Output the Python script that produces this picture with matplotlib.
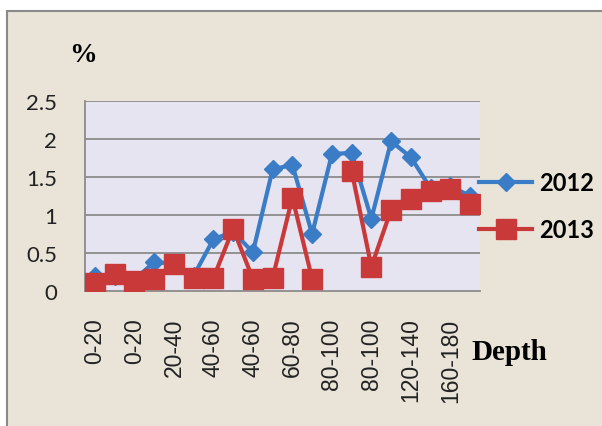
import numpy as np
import matplotlib
matplotlib.use('Agg')
import matplotlib.pyplot as plt
from matplotlib.patches import Rectangle

# depth classes (only every second one is labelled on the axis)
shown_labels = ['0-20', '0-20', '20-40', '40-60', '40-60',
                '60-80', '80-100', '80-100', '120-140', '160-180']

val_2012 = [0.20, 0.20, 0.15, 0.38, 0.36, 0.20, 0.68, 0.78, 0.51, 1.60,
            1.66, 0.75, 1.80, 1.82, 0.95, 1.97, 1.76, 1.35, 1.38, 1.25]
val_2013 = [0.10, 0.22, 0.13, 0.16, 0.36, 0.17, 0.17, 0.82, 0.16, 0.17,
            1.23, 0.16, np.nan, 1.58, 0.32, 1.07, 1.21, 1.32, 1.34, 1.15]

bg = '#e9e3d8'
blue = '#3b7cc6'
red = '#c9393a'

fig = plt.figure(figsize=(6.02, 4.27), dpi=100)
fig.patch.set_facecolor('white')
fig.patches.append(Rectangle((7 / 602, -0.1), 1.2, 1 - 12 / 427 + 0.1,
                             transform=fig.transFigure, facecolor=bg,
                             edgecolor='#8a8a8a', linewidth=1.5, zorder=-10))

ax = fig.add_axes([85 / 602, 1 - 292 / 427, 395 / 602, 190 / 427])
ax.set_facecolor('#e7e4f1')

x = np.arange(len(val_2012))
ax.plot(x, val_2012, color=blue, lw=3, marker='D', ms=9.5, label='2012', zorder=3)
ax.plot(x, val_2013, color=red, lw=3, marker='s', ms=14, label='2013', zorder=4)

ax.set_xlim(-0.5, len(x) - 0.5)
ax.set_ylim(0, 2.5)
ax.set_yticks([0, 0.5, 1, 1.5, 2, 2.5])
ax.set_yticklabels(['0', '0.5', '1', '1.5', '2', '2.5'])
ax.set_xticks(x[::2])
ax.set_xticklabels(shown_labels, rotation=90)

for y in [0.5, 1, 1.5, 2, 2.5]:
    ax.axhline(y, color='#8c8c8c', lw=1.3, zorder=1)
for s in ['top', 'right']:
    ax.spines[s].set_visible(False)
ax.spines['left'].set_color('#8c8c8c')
ax.spines['bottom'].set_color('#8c8c8c')
ax.spines['left'].set_linewidth(1.3)
ax.spines['bottom'].set_linewidth(1.3)

ax.tick_params(axis='y', length=0, pad=20, labelsize=16, labelcolor='#222222')
ax.tick_params(axis='x', length=0, pad=19, labelsize=16.5, labelcolor='#222222')
for t in ax.get_yticklabels():
    t.set_fontfamily('Lato')
for t in ax.get_xticklabels():
    t.set_fontfamily('Liberation Sans')

fig.text(69 / 602, 1 - 56 / 427, '%', fontsize=20, fontweight='bold',
         family='Liberation Serif', va='center', ha='left')
fig.text(471 / 602, 1 - 353 / 427, 'Depth', fontsize=21, fontweight='bold',
         family='Liberation Serif', va='center', ha='left')

leg = ax.legend(loc='center left', bbox_to_anchor=(479 / 602, 1 - 207 / 427),
                bbox_transform=fig.transFigure, frameon=False,
                borderpad=0, borderaxespad=0,
                handlelength=2.25, handletextpad=0.3, labelspacing=1.0,
                prop={'family': 'Lato', 'weight': 'bold', 'size': 17})

fig.savefig('out.png', dpi=100, facecolor=fig.get_facecolor())
